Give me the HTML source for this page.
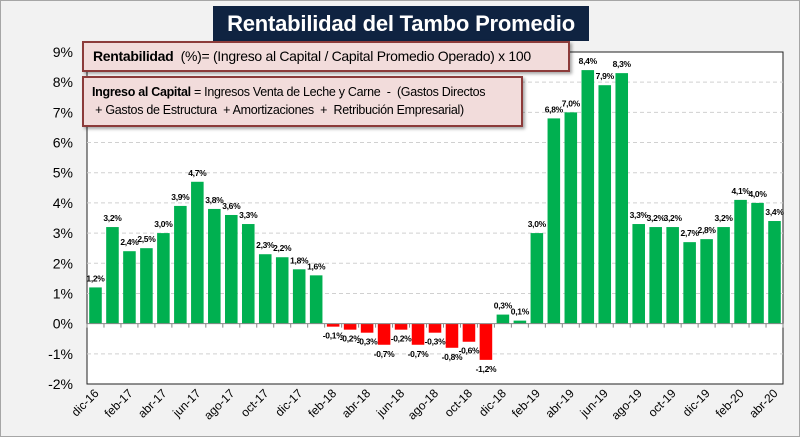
<!DOCTYPE html>
<html><head><meta charset="utf-8"><style>
body{margin:0;width:800px;height:437px;overflow:hidden;font-family:"Liberation Sans",sans-serif;}
#wrap{position:absolute;left:0;top:0;width:798px;height:435px;background:#f2f2f2;border:1px solid #a6a6a6;}
.box{position:absolute;background:#f2dcdb;border:2px solid #8c3b3a;box-shadow:2px 2px 3px rgba(0,0,0,.35);color:#000;box-sizing:border-box;white-space:nowrap;overflow:hidden;}
</style></head><body>
<div id="wrap">
<svg id="chart" width="800" height="437" style="position:absolute;left:0;top:0"></svg>
<div style="position:absolute;left:212px;top:5px;width:376px;height:35px;background:#0f2341;color:#fff;font-weight:bold;font-size:22px;letter-spacing:-0.2px;text-align:center;line-height:35px;white-space:nowrap;">Rentabilidad del Tambo Promedio</div>
<div class="box" style="left:81px;top:40px;width:488px;height:31px;line-height:27px;padding-left:9px;font-size:14px;letter-spacing:-0.3px;"><b>Rentabilidad</b>&nbsp; (%)= (Ingreso al Capital / Capital Promedio Operado) x 100</div>
<div class="box" style="left:81px;top:75px;width:441px;height:51px;font-size:12.5px;line-height:18px;padding:5px 0 0 8px;letter-spacing:-0.3px;"><b>Ingreso al Capital</b> = Ingresos Venta de Leche y Carne&nbsp; -&nbsp; (Gastos Directos<br>&nbsp;+ Gastos de Estructura&nbsp; + Amortizaciones&nbsp; +&nbsp; Retribución Empresarial)</div>
</div>
<script>
const months=["dic-16","ene-17","feb-17","mar-17","abr-17","may-17","jun-17","jul-17","ago-17","sep-17","oct-17","nov-17","dic-17","ene-18","feb-18","mar-18","abr-18","may-18","jun-18","jul-18","ago-18","sep-18","oct-18","nov-18","dic-18","ene-19","feb-19","mar-19","abr-19","may-19","jun-19","jul-19","ago-19","sep-19","oct-19","nov-19","dic-19","ene-20","feb-20","mar-20","abr-20"];
const values=[1.2,3.2,2.4,2.5,3.0,3.9,4.7,3.8,3.6,3.3,2.3,2.2,1.8,1.6,-0.1,-0.2,-0.3,-0.7,-0.2,-0.7,-0.3,-0.8,-0.6,-1.2,0.3,0.1,3.0,6.8,7.0,8.4,7.9,8.3,3.3,3.2,3.2,2.7,2.8,3.2,4.1,4.0,3.4];
const yTicks=[-2,-1,0,1,2,3,4,5,6,7,8,9];
const NS="http://www.w3.org/2000/svg";
const svg=document.getElementById('chart');
const L=86,R=782,T=51,B=383,yMin=-2,yMax=9;
const y=v=>B-(v-yMin)/(yMax-yMin)*(B-T);
const slot=(R-L)/months.length;
const x=i=>L+i*slot;
function mk(t,a){const e=document.createElementNS(NS,t);for(const k in a)e.setAttribute(k,a[k]);svg.appendChild(e);return e;}
let pa=mk('rect',{x:L,y:T,width:R-L,height:B-T,fill:'#fff',stroke:'#222','stroke-width':1});

yTicks.forEach(v=>{
  if(v!==0&&v!==yMin&&v!==yMax){const g=mk('line',{x1:L,x2:R,y1:y(v),y2:y(v),stroke:'#d0d0d0','stroke-dasharray':'4,3'});
  }
  const t=mk('text',{x:L-14,y:y(v)+5,'text-anchor':'end','font-size':14,fill:'#000'});
  t.textContent=v+'%';
  
});
values.forEach((v,i)=>{
  const bw=slot*0.74,bx=x(i)+(slot-bw)/2;
  const b=mk('rect',{x:bx,y:Math.min(y(v),y(0)),width:bw,height:Math.abs(y(v)-y(0)),fill:v>=0?'#00b050':'#ff0000'});
  
  const ly=v>=0?y(v)-6:y(v)+12;
  const lt=mk('text',{x:x(i)+slot/2,y:ly,'text-anchor':'middle','font-size':8.5,'font-weight':'bold',fill:'#000','letter-spacing':'-0.3'});
  lt.textContent=v.toFixed(1).replace('.',',')+'%';
  
});
const zl=mk('line',{x1:L,x2:R,y1:y(0),y2:y(0),stroke:'#888','stroke-width':1});

for(let i=0;i<=months.length;i++){const tk=mk('line',{x1:x(i),x2:x(i),y1:y(0),y2:y(0)+4,stroke:'#888'});
}
months.forEach((m,i)=>{ if(i%2) return;
  const cx=x(i)+slot/2+4,cy=B+10;
  const t=mk('text',{x:cx,y:cy,'text-anchor':'end','font-size':12,fill:'#000',transform:`rotate(-45 ${cx} ${cy})`});
  t.textContent=m;
  
});
</script>
</body></html>
